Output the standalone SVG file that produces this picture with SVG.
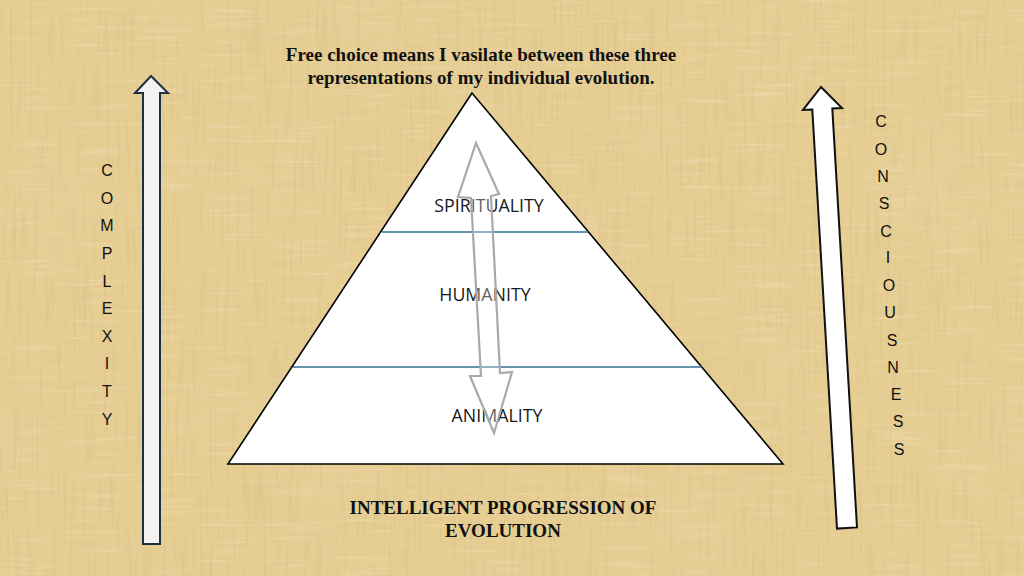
<svg xmlns="http://www.w3.org/2000/svg" width="1024" height="576" viewBox="0 0 1024 576">
  <style>
    .title { font-family: "Liberation Serif", "Times New Roman", serif; font-weight: bold; font-size: 19px; fill: #111; text-anchor: middle; }
    .level { font-family: "Open Sans", "Noto Sans", "Liberation Sans", sans-serif; font-size: 17.8px; fill: #1a1a1a; text-anchor: middle; }
    .vert { font-family: "Liberation Sans", Arial, sans-serif; font-size: 16px; fill: #111; text-anchor: middle; }
    .divider { stroke: #2f6f93; stroke-width: 1.6; }
    .sidearrow { stroke-width: 2; stroke-linejoin: miter; }
  </style>
  <defs>
    <filter id="streakV" x="0" y="0" width="100%" height="100%">
      <feTurbulence type="fractalNoise" baseFrequency="0.3 0.015" numOctaves="2" seed="4" result="n"/>
      <feColorMatrix in="n" type="matrix" values="0 0 0 0 0.62  0 0 0 0 0.48  0 0 0 0 0.22  1.0 0 0 0 -0.5"/>
    </filter>
    <filter id="streakH" x="0" y="0" width="100%" height="100%">
      <feTurbulence type="fractalNoise" baseFrequency="0.015 0.3" numOctaves="2" seed="9" result="n"/>
      <feColorMatrix in="n" type="matrix" values="0 0 0 0 0.98  0 0 0 0 0.9  0 0 0 0 0.72  0.8 0 0 0 -0.45"/>
    </filter>
    <filter id="blotch" x="0" y="0" width="100%" height="100%">
      <feTurbulence type="fractalNoise" baseFrequency="0.008" numOctaves="3" seed="2" result="n"/>
      <feColorMatrix in="n" type="matrix" values="0 0 0 0 0.8  0 0 0 0 0.64  0 0 0 0 0.32  1.2 0 0 0 -0.55"/>
    </filter>
  </defs>

  <g id="background">
    <rect x="0" y="0" width="1024" height="576" fill="#e6cd92"/>
    <rect x="0" y="0" width="1024" height="576" filter="url(#blotch)"/>
    <rect x="0" y="0" width="1024" height="576" filter="url(#streakV)"/>
    <rect x="0" y="0" width="1024" height="576" filter="url(#streakH)"/>
  </g>

  <g id="title">
    <text class="title" x="481" y="61">Free choice means I vasilate between these three</text>
    <text class="title" x="481" y="84">representations of my individual evolution.</text>
  </g>

  <g id="pyramid">
    <polygon points="472,93 228,464 783,464" fill="#ffffff" stroke="#000" stroke-width="1.6" stroke-linejoin="miter"/>
    <line class="divider" x1="382" y1="232" x2="588" y2="232"/>
    <line class="divider" x1="293" y1="367" x2="702" y2="367"/>
  </g>

  <g id="spirituality">
    <text class="level" x="489" y="212">SPIRITUALITY</text>
  </g>
  <g id="humanity">
    <text class="level" x="485" y="301">HUMANITY</text>
  </g>
  <g id="animality">
    <text class="level" x="497" y="422">ANIMALITY</text>
  </g>

  <g id="complexity">
    <text class="vert" x="107" y="176">C</text>
    <text class="vert" x="107" y="203.5">O</text>
    <text class="vert" x="107" y="231">M</text>
    <text class="vert" x="107" y="259">P</text>
    <text class="vert" x="107" y="287">L</text>
    <text class="vert" x="107" y="314">E</text>
    <text class="vert" x="107" y="342">X</text>
    <text class="vert" x="107" y="369">I</text>
    <text class="vert" x="107" y="397">T</text>
    <text class="vert" x="107" y="425">Y</text>
  </g>

  <g id="consciousness">
    <text class="vert" x="881" y="127">C</text>
    <text class="vert" x="881" y="155">O</text>
    <text class="vert" x="883" y="182">N</text>
    <text class="vert" x="884" y="209">S</text>
    <text class="vert" x="886" y="237">C</text>
    <text class="vert" x="888" y="263">I</text>
    <text class="vert" x="889" y="291">O</text>
    <text class="vert" x="890" y="318">U</text>
    <text class="vert" x="892" y="346">S</text>
    <text class="vert" x="893" y="373">N</text>
    <text class="vert" x="896" y="400">E</text>
    <text class="vert" x="898" y="427">S</text>
    <text class="vert" x="899" y="455">S</text>
  </g>

  <g id="footer">
    <text class="title" x="503" y="514">INTELLIGENT PROGRESSION OF</text>
    <text class="title" x="503" y="537">EVOLUTION</text>
  </g>

  <g id="connectors">
    <polygon id="complexity-arrow" class="sidearrow" points="151,76 168,93 160,93 160,544 143,544 143,93 135,93" fill="#f2f2f2" stroke="#1f2f3d"/>
    <polygon id="consciousness-arrow" class="sidearrow" points="821,87 842,108 832.3,108.4 857,527.4 837,528.6 812.3,109.6 803,110" fill="#ffffff" stroke="#111"/>
    <polygon id="choice-arrow" points="476,143 499,194 491,196 500,373 512,372 494,433 470,376 481,376 471,198 458,197" fill="#ffffff" fill-opacity="0.3" stroke="#a9a9a9" stroke-width="2.2" stroke-linejoin="miter"/>
  </g>
</svg>
